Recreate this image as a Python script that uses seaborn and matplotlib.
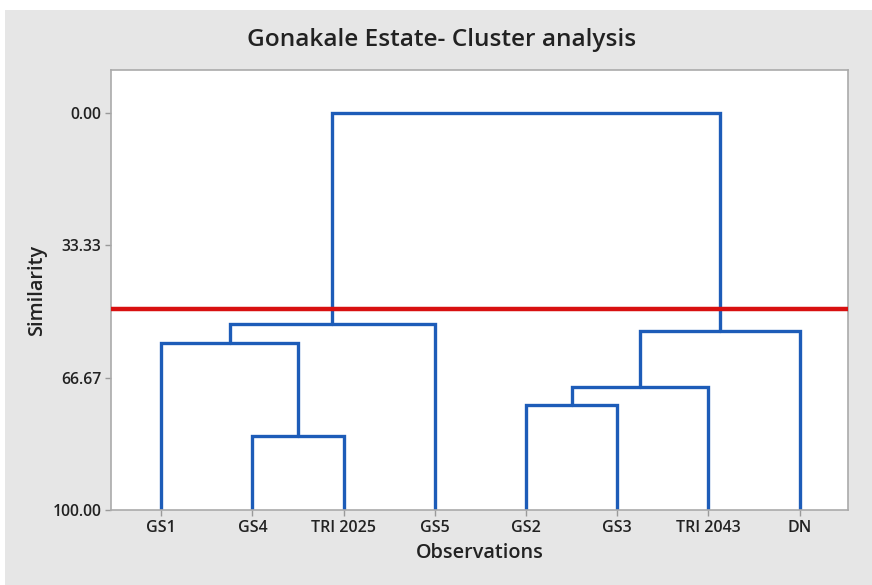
import matplotlib
matplotlib.use("Agg")
import matplotlib.pyplot as plt
import seaborn as sns
import pandas as pd

# Leaves (in display order)
observations = ["GS1", "GS4", "TRI 2025", "GS5", "GS2", "GS3", "TRI 2043", "DN"]
# Merge steps: (left member, right member, similarity). Members: leaf names or "C<k>" for k-th merge
merge_left = ["GS4", "GS2", "C1", "C0", "C3", "C2", "C4"]
merge_right = ["TRI 2025", "GS3", "TRI 2043", "GS1", "GS5", "DN", "C5"]
merge_similarity = [81.4, 73.6, 69.0, 57.9, 53.1, 54.9, 0.0]
cut_line = 49.4
yticks = [0.00, 33.33, 66.67, 100.00]

sns.set_theme(style="white")
plt.rcParams['font.family'] = ['Open Sans', 'DejaVu Sans']

fig = plt.figure(figsize=(8.72, 5.85), dpi=100)
fig.patch.set_facecolor("white")
bg = fig.add_axes([0.006, 0.0, 0.994, 0.983])
bg.set_facecolor("#e6e6e6")
bg.set_xticks([]); bg.set_yticks([])
for s in bg.spines.values():
    s.set_visible(False)
bg.set_zorder(-5)

W, H = 872, 585
ax = fig.add_axes([111 / W, 1 - 510 / H, (848 - 111) / W, (510 - 70) / H])
ax.set_facecolor("white")

pos = {name: i + 1 for i, name in enumerate(observations)}
height = {name: 100.0 for name in observations}
segs = []
for k, (a, b, s) in enumerate(zip(merge_left, merge_right, merge_similarity)):
    xa, xb = pos[a], pos[b]
    ya, yb = height[a], height[b]
    segs.append(pd.DataFrame({"x": [xa, xa, xb, xb], "y": [ya, s, s, yb], "seg": k}))
    pos[f"C{k}"] = (xa + xb) / 2
    height[f"C{k}"] = s
df = pd.concat(segs, ignore_index=True)

for k, g in df.groupby("seg"):
    sns.lineplot(data=g, x="x", y="y", sort=False, ax=ax, color="#1d5cb8",
                 linewidth=2.4, estimator=None, legend=False,
                 solid_joinstyle="miter", zorder=2)

ax.axhline(cut_line, color="#d81010", linewidth=3.2, zorder=3)

ax.set_xlim(0.45, 8.53)
ax.set_ylim(100, -10.8)
ax.set_yticks(yticks)
ax.set_yticklabels([f"{v:.2f}" for v in yticks], fontsize=11.3, fontweight="semibold", color="#222222")
ax.set_xticks(range(1, len(observations) + 1))
ax.set_xticklabels(observations, fontsize=11.5, fontweight="semibold", color="#222222")
ax.tick_params(axis="both", length=4, width=1, color="#999999", direction="out", pad=3)
ax.tick_params(axis="both", which="both", bottom=True, left=True)
for s in ax.spines.values():
    s.set_color("#aaaaaa")
    s.set_linewidth(1.2)

ax.set_xlabel("Observations", fontsize=14.3, fontweight="semibold", color="#222222", labelpad=5)
ax.set_ylabel("Similarity", fontsize=14.3, fontweight="semibold", color="#222222", labelpad=4)
fig.text(0.506, 1 - 40 / H, "Gonakale Estate- Cluster analysis", ha="center", va="center",
         fontsize=17.6, fontweight="semibold", color="#222222")

fig.savefig("out.png", dpi=100)
